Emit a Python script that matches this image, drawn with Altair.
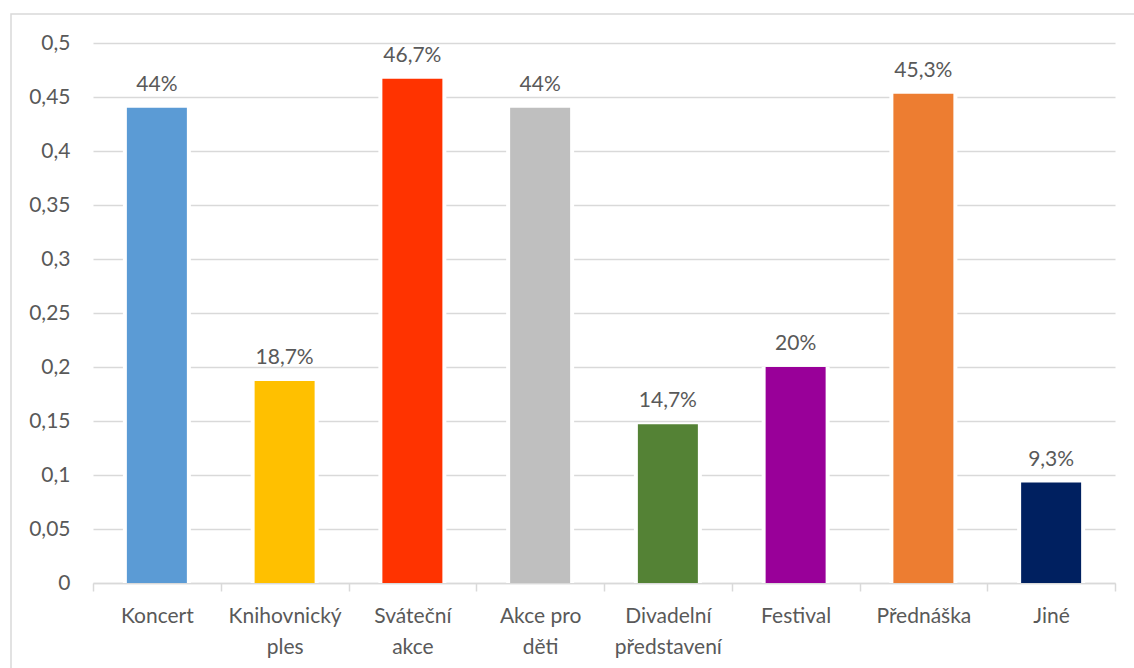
import altair as alt
import pandas as pd

categories = ["Koncert", "Knihovnický|ples", "Sváteční|akce", "Akce pro|děti",
              "Divadelní|představení", "Festival", "Přednáška", "Jiné"]
values = [0.44, 0.187, 0.467, 0.44, 0.147, 0.2, 0.453, 0.093]
colors = ["#5B9BD5", "#FFC000", "#FF3300", "#BFBFBF",
          "#548235", "#990099", "#ED7D31", "#002060"]

df = pd.DataFrame({"cat": categories, "val": values, "col": colors})

FONT = "Lato"
FS = 21
TXT = "#595959"
GRID = "#D9D9D9"

x_enc = alt.X("cat:N", sort=categories, title=None,
              scale=alt.Scale(paddingInner=0, paddingOuter=0),
              axis=alt.Axis(labelAngle=0,
                            labelExpr="isValid(datum.value) ? split(datum.value, '|') : ''",
                            labelFont=FONT, labelFontSize=FS, labelColor=TXT,
                            labelLineHeight=31, labelPadding=14,
                            domainColor=GRID, domainWidth=1.5,
                            tickColor=GRID, tickSize=8, tickWidth=1.5,
                            tickBand="extent", grid=False))
y_enc = alt.Y("val:Q", title=None,
              scale=alt.Scale(domain=[0, 0.5], nice=False),
              axis=alt.Axis(values=[0, 0.05, 0.1, 0.15, 0.2, 0.25, 0.3, 0.35, 0.4, 0.45, 0.5],
                            labelExpr="replace(format(datum.value, '.2~f'), '.', ',')",
                            labelFont=FONT, labelFontSize=FS, labelColor=TXT,
                            labelPadding=23, ticks=False, domain=False,
                            grid=True, gridColor=GRID, gridWidth=1.5))

base = alt.Chart(df)

white = base.mark_bar(size=68, color="white").encode(x=x_enc, y=y_enc)
bars = base.mark_bar(size=60).encode(
    x=x_enc, y=y_enc,
    color=alt.Color("col:N", scale=None))
labels = base.mark_text(font=FONT, fontSize=FS, color=TXT,
                        baseline="alphabetic", dy=-17).encode(
    x=x_enc, y=y_enc,
    text=alt.Text("lbl:N")).transform_calculate(
    lbl="replace(format(datum.val * 100, '.1~f'), '.', ',') + '%'")

border = alt.Chart(pd.DataFrame({"a": [0]})).mark_rect(
    fill=None, stroke=GRID, strokeWidth=1.5).encode(
    x=alt.value(-82), x2=alt.value(1060), y=alt.value(-29), y2=alt.value(700))

chart = alt.layer(border, white, bars, labels).properties(
    width=1022, height=540,
    autosize=alt.AutoSizeParams(type="none"),
    padding={"left": 93, "top": 43, "right": 19, "bottom": 85},
    background="white",
).configure_view(stroke=None)

chart.save("out.html", embed_options={"renderer": "svg", "actions": False})
